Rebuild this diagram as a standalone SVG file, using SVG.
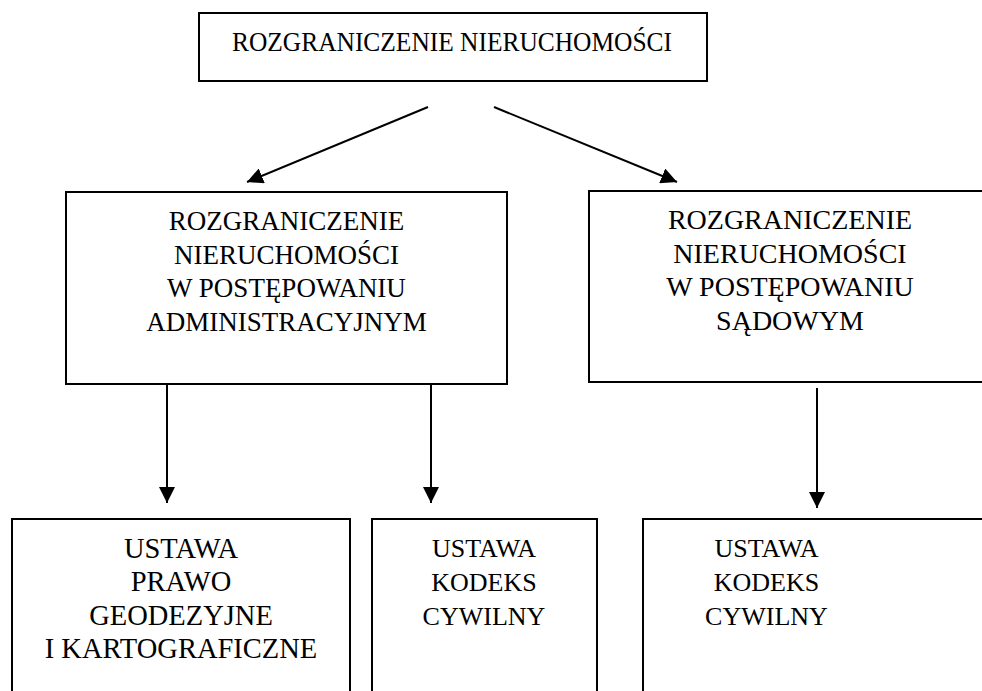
<svg xmlns="http://www.w3.org/2000/svg" width="982" height="691" viewBox="0 0 982 691">
<defs>
<marker id="ah" viewBox="0 0 15 15" refX="15" refY="7.5" markerWidth="16" markerHeight="16" markerUnits="userSpaceOnUse" orient="auto">
<path d="M0,0 L15,7.5 L0,15 Z" fill="#000"/>
</marker>
<style>
.box{fill:#fff;stroke:#000;stroke-width:2}
.t{fill:#000;text-anchor:middle}
.c{fill:none;stroke:#000;stroke-width:2;marker-end:url(#ah)}
</style>
</defs>
<rect width="982" height="691" fill="#fff"/>
<g font-family="'Liberation Serif', 'DejaVu Serif', serif">
<g id="top">
<rect class="box" x="199" y="13" width="508" height="68"/>
<text class="t" x="452" y="51" font-size="27.5" textLength="440" lengthAdjust="spacingAndGlyphs">ROZGRANICZENIE NIERUCHOMOŚCI</text>
</g>
<g id="admin" font-size="27">
<rect class="box" x="66" y="192" width="441" height="192"/>
<text class="t" x="286.5" y="230">ROZGRANICZENIE</text>
<text class="t" x="286.5" y="263.5">NIERUCHOMOŚCI</text>
<text class="t" x="286.5" y="297">W POSTĘPOWANIU</text>
<text class="t" x="286.5" y="331">ADMINISTRACYJNYM</text>
</g>
<g id="sad" font-size="28">
<rect class="box" x="589" y="191" width="402" height="191"/>
<text class="t" x="790" y="229">ROZGRANICZENIE</text>
<text class="t" x="790" y="262.5">NIERUCHOMOŚCI</text>
<text class="t" x="790" y="296">W POSTĘPOWANIU</text>
<text class="t" x="790" y="330">SĄDOWYM</text>
</g>
<g id="geo" font-size="28.5">
<rect class="box" x="12" y="519" width="338" height="190"/>
<text class="t" x="181" y="558">USTAWA</text>
<text class="t" x="181" y="591">PRAWO</text>
<text class="t" x="181" y="624.5">GEODEZYJNE</text>
<text class="t" x="181" y="658">I KARTOGRAFICZNE</text>
</g>
<g id="kc1" font-size="26">
<rect class="box" x="372" y="519" width="225" height="190"/>
<text class="t" x="484" y="557">USTAWA</text>
<text class="t" x="484" y="591">KODEKS</text>
<text class="t" x="484" y="625">CYWILNY</text>
</g>
<g id="kc2" font-size="26">
<rect class="box" x="643" y="519" width="350" height="190"/>
<text class="t" x="766.5" y="557">USTAWA</text>
<text class="t" x="766.5" y="591">KODEKS</text>
<text class="t" x="766.5" y="625">CYWILNY</text>
</g>
</g>
<g id="connectors">
<path class="c" d="M428,107 L247,182"/>
<path class="c" d="M494,107 L677,182"/>
<path class="c" d="M167,384 L167,503"/>
<path class="c" d="M431,384 L431,503"/>
<path class="c" d="M817,388 L817,508"/>
</g>
</svg>
